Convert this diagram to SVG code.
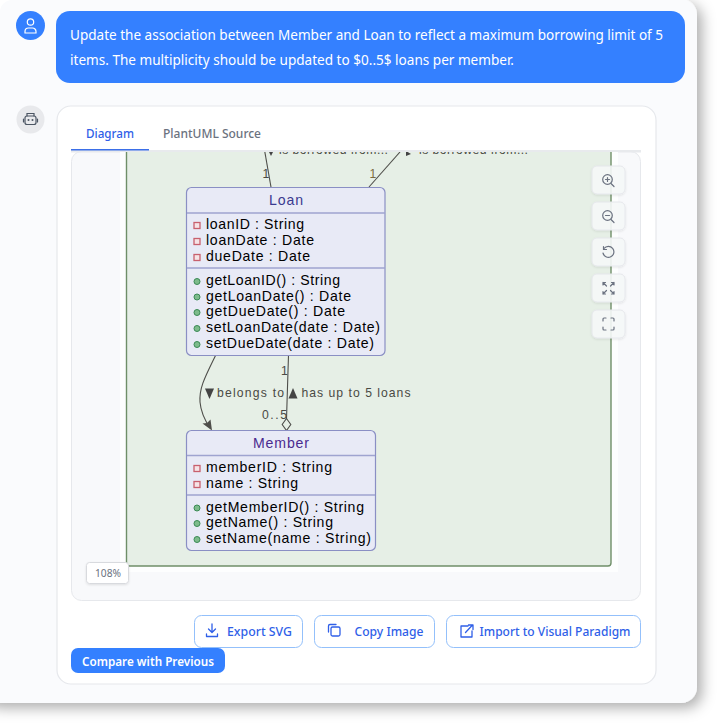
<svg xmlns="http://www.w3.org/2000/svg" width="719" height="724" viewBox="0 0 719 724">
<style>
.ui{font-family:"Noto Sans","Open Sans","Liberation Sans",sans-serif}
.msg{font-size:13.5px;fill:#fff}
.tab{font-size:12.5px;font-weight:500}
.btn{font-size:12.5px;fill:#2f5fe8;font-weight:500}
.um{font-family:"Liberation Sans",Arial,sans-serif;font-size:14.1px;fill:#000}
.title{font-family:"Liberation Sans",Arial,sans-serif;font-size:14.1px;text-anchor:middle}
.lab{font-family:"Liberation Sans",Arial,sans-serif;font-size:12.2px;fill:#4a4a44}
.cls{fill:#e8eaf6;stroke:#8a8fc4;stroke-width:1.2}
.sep{stroke:#9fa4d0;stroke-width:1.4}
.priv{fill:#f6e3e6;stroke:#c8606e;stroke-width:1.3}
.pub{fill:#7dbb8c;stroke:#3a8a55;stroke-width:1}
.edge{fill:none;stroke:#4e4e4a;stroke-width:1.1}
.ctl{fill:#f6f8f8;fill-opacity:.9;stroke:#e6e8ec;stroke-width:1}
.ico{fill:none;stroke:#6b7280;stroke-width:1.2;stroke-linecap:round}
.obtn{fill:#fff;stroke:#93c0fb;stroke-width:1}
.bi{fill:none;stroke:#2f5fe8;stroke-width:1.3;stroke-linecap:round;stroke-linejoin:round}
</style>
<defs>
<filter id="sh" x="-10%" y="-10%" width="120%" height="120%"><feDropShadow dx="5" dy="5" stdDeviation="7" flood-color="#000" flood-opacity=".32"/></filter>
<filter id="cs" x="-20%" y="-20%" width="140%" height="140%"><feDropShadow dx="0" dy="1" stdDeviation="1" flood-color="#000" flood-opacity=".1"/></filter>
<clipPath id="view"><rect x="71" y="152" width="570" height="448"/></clipPath>
</defs>
<rect width="719" height="724" fill="#fff"/>
<rect id="shell" x="-20" y="-1" width="717" height="704" rx="16" fill="#fafbfd" filter="url(#sh)"/>
<path d="M0 0h12a12 12 0 0 0-12 12z" fill="#fff"/>

<g id="user-message">
<circle cx="30.500" cy="25.500" r="14.500" fill="#3480ff"/>
<g fill="none" stroke="#fff" stroke-width="1.200" stroke-linecap="round"><circle cx="30.500" cy="22" r="3.200"/><path d="M25 33v-1.500a3.500 3.500 0 0 1 3.500-3.500h4a3.500 3.500 0 0 1 3.500 3.500V33z"/></g>
<rect x="56" y="11" width="629" height="72" rx="14" fill="#3480ff"/>
<text class="ui msg" x="70" y="40" textLength="593" lengthAdjust="spacingAndGlyphs">Update the association between Member and Loan to reflect a maximum borrowing limit of 5</text>
<text class="ui msg" x="70" y="65" textLength="444" lengthAdjust="spacingAndGlyphs">items. The multiplicity should be updated to $0..5$ loans per member.</text>
</g>

<g id="assistant-avatar">
<circle cx="30.500" cy="119.500" r="14" fill="#e8e9ec"/>
<g fill="none" stroke="#4b5563" stroke-width="1.200" stroke-linecap="round"><rect x="25" y="116" width="11" height="8.500" rx="2"/><path d="M27 116v-2.500h7V116M23.500 119v3M37.500 119v3"/></g>
<circle cx="28.500" cy="120" r="1" fill="#4b5563"/><circle cx="32.500" cy="120" r="1" fill="#4b5563"/>
</g>

<g id="card">
<rect x="57" y="106" width="599" height="578" rx="14" fill="#fff" stroke="#e6e8ec" stroke-width="1.200"/>
<text class="ui tab" x="86" y="138" fill="#2f5fe8" textLength="48" lengthAdjust="spacingAndGlyphs">Diagram</text>
<text class="ui tab" x="163" y="138" fill="#6b7280" textLength="98" lengthAdjust="spacingAndGlyphs">PlantUML Source</text>
<rect x="71.500" y="151.500" width="569" height="449" rx="10" fill="#f8f9fb" stroke="#e6e8ec"/>
<rect x="71" y="150" width="570" height="2.500" fill="#e8eaed"/>
<rect x="71" y="149" width="78" height="1.500" fill="#3b6fe8"/>
</g>

<g id="canvas" clip-path="url(#view)">
<rect x="120" y="152" width="498" height="420" fill="#fdfefe"/>
<rect x="126.500" y="130" width="484.500" height="436" rx="3" fill="#e6efe6" stroke="#6f8f68" stroke-width="1.400"/>

<g id="connectors">
<path class="edge" d="M264.500 150L271 187"/>
<path class="edge" d="M400 152L369 187"/>
<path class="edge" d="M215.500 355.500C205 377 199 388 200 402C201 414 206 422 210 428"/>
<path d="M212 430.500L202.500 423.500L207 423L210.500 419.500z" fill="#4e4e4a"/>
<path class="edge" d="M288.500 355.500L286.500 419"/>
<path d="M286.500 418.500L290.800 424.500L286.500 430.500L282.200 424.500z" fill="#e6efe6" stroke="#4e4e4a" stroke-width="1.100"/>
</g>

<g id="connector-labels">
<path d="M268.500 151h5l-2.500 5z" fill="#444"/>
<text class="lab" x="279" y="154" textLength="109" lengthAdjust="spacing">is borrowed from...</text>
<text class="lab" x="262.500" y="177.500" fill="#555">1</text>
<path d="M406 151l5 3-5 2z" fill="#444"/>
<text class="lab" x="419" y="154" textLength="109" lengthAdjust="spacing">is borrowed from...</text>
<text class="lab" x="369.500" y="177.500" style="fill:#7a6a40">1</text>
<text class="lab" x="281" y="375" fill="#555">1</text>
<path d="M205 388.500h9l-4.500 10.500z" fill="#444"/>
<text class="lab" x="217" y="397" textLength="67" lengthAdjust="spacing">belongs to</text>
<path d="M288.500 398.500h9l-4.500-10.500z" fill="#444"/>
<text class="lab" x="301.500" y="397" textLength="109" lengthAdjust="spacing">has up to 5 loans</text>
<text class="lab" x="262" y="418.500" textLength="25" lengthAdjust="spacing">0..5</text>
</g>

<g id="node-loan">
<rect class="cls" x="186.500" y="187.500" width="198.500" height="168" rx="5"/>
<path class="sep" d="M187 213h198M187 268h198"/>
<text class="title" x="286" y="205" fill="#3a3a90" textLength="34" lengthAdjust="spacing">Loan</text>
<rect class="priv" x="194" y="222.500" width="6" height="6"/><text class="um" x="206" y="229" textLength="98" lengthAdjust="spacing">loanID : String</text>
<rect class="priv" x="194" y="238.500" width="6" height="6"/><text class="um" x="206" y="245" textLength="108" lengthAdjust="spacing">loanDate : Date</text>
<rect class="priv" x="194" y="254.500" width="6" height="6"/><text class="um" x="206" y="261" textLength="104" lengthAdjust="spacing">dueDate : Date</text>
<circle class="pub" cx="197" cy="281.500" r="3"/><text class="um" x="206" y="285" textLength="134" lengthAdjust="spacing">getLoanID() : String</text>
<circle class="pub" cx="197" cy="297" r="3"/><text class="um" x="206" y="301" textLength="145" lengthAdjust="spacing">getLoanDate() : Date</text>
<circle class="pub" cx="197" cy="312.500" r="3"/><text class="um" x="206" y="316" textLength="139" lengthAdjust="spacing">getDueDate() : Date</text>
<circle class="pub" cx="197" cy="328.500" r="3"/><text class="um" x="206" y="332" textLength="174" lengthAdjust="spacing">setLoanDate(date : Date)</text>
<circle class="pub" cx="197" cy="344.500" r="3"/><text class="um" x="206" y="348" textLength="168" lengthAdjust="spacing">setDueDate(date : Date)</text>
</g>

<g id="node-member">
<rect class="cls" x="186.500" y="430.500" width="189" height="120" rx="5"/>
<path class="sep" d="M187 455.500h188M187 495h188"/>
<text class="title" x="281" y="448" fill="#4a2a90" textLength="56" lengthAdjust="spacing">Member</text>
<rect class="priv" x="194" y="465.500" width="6" height="6"/><text class="um" x="206" y="472" textLength="126" lengthAdjust="spacing">memberID : String</text>
<rect class="priv" x="194" y="481.500" width="6" height="6"/><text class="um" x="206" y="488" textLength="92" lengthAdjust="spacing">name : String</text>
<circle class="pub" cx="197" cy="508" r="3"/><text class="um" x="206" y="512" textLength="158" lengthAdjust="spacing">getMemberID() : String</text>
<circle class="pub" cx="197" cy="523.500" r="3"/><text class="um" x="206" y="527" textLength="127" lengthAdjust="spacing">getName() : String</text>
<circle class="pub" cx="197" cy="539.500" r="3"/><text class="um" x="206" y="543" textLength="165" lengthAdjust="spacing">setName(name : String)</text>
</g>
</g>

<g id="zoom-controls">
<rect class="ctl" x="592" y="166" width="33" height="28" rx="5" filter="url(#cs)"/>
<g class="ico"><circle cx="607.500" cy="179.500" r="4.800"/><path d="M605.500 179.500h4M607.500 177.500v4M611 183.500l3 3"/></g>
<rect class="ctl" x="592" y="202" width="33" height="28" rx="5" filter="url(#cs)"/>
<g class="ico"><circle cx="607.500" cy="215.500" r="4.800"/><path d="M605.500 215.500h4M611 219.500l3 3"/></g>
<rect class="ctl" x="592" y="238" width="33" height="28" rx="5" filter="url(#cs)"/>
<g class="ico"><path d="M604 248.500a5.500 5.500 0 1 1-1 4.500M603.500 246.500v3h3"/></g>
<rect class="ctl" x="592" y="274" width="33" height="28" rx="5" filter="url(#cs)"/>
<g class="ico"><path d="M603 282.500l3.500 3.500M603 285v-2.500h2.500M614 282.500l-3.500 3.500M611.500 282.500h2.500V285M603 294l3.500-3.500M603 291.500V294h2.500M614 294l-3.500-3.500M611.500 294h2.500v-2.500"/></g>
<rect class="ctl" x="592" y="310" width="33" height="28" rx="5" filter="url(#cs)"/>
<g class="ico"><path d="M603 321v-2a1 1 0 0 1 1-1h2M611 318h2a1 1 0 0 1 1 1v2M614 327v2a1 1 0 0 1-1 1h-2M606 330h-2a1 1 0 0 1-1-1v-2"/></g>
</g>

<g id="zoom-badge">
<rect x="86.500" y="562.500" width="42" height="21" rx="3" fill="#fff" stroke="#d8dade" filter="url(#cs)"/>
<text class="ui" x="95" y="577" font-size="11" fill="#6b7280" textLength="26" lengthAdjust="spacingAndGlyphs">108%</text>
</g>

<g id="actions">
<rect class="obtn" x="194.500" y="615.500" width="108" height="32" rx="7"/>
<g class="bi"><path d="M212 624v8M208.500 629l3.500 3.500 3.500-3.500M206.500 634v2.500h11V634"/></g>
<text class="ui btn" x="227" y="636" textLength="65" lengthAdjust="spacingAndGlyphs">Export SVG</text>
<rect class="obtn" x="314.500" y="615.500" width="120" height="32" rx="7"/>
<g class="bi"><rect x="331" y="627" width="9" height="9" rx="1.500"/><path d="M328.500 632v-6a1.500 1.500 0 0 1 1.500-1.500h6"/></g>
<text class="ui btn" x="354.500" y="636" textLength="69" lengthAdjust="spacingAndGlyphs">Copy Image</text>
<rect class="obtn" x="446.500" y="615.500" width="194" height="32" rx="7"/>
<g class="bi"><path d="M468 626h-7v11h11v-6M465.500 632.500l7-7.500M468.500 625h4.500v4.500"/></g>
<text class="ui btn" x="479.500" y="636" textLength="151" lengthAdjust="spacingAndGlyphs">Import to Visual Paradigm</text>
<rect x="71" y="648" width="154" height="25" rx="7" fill="#3480ff"/>
<text class="ui" x="82" y="665.500" font-size="12" font-weight="600" fill="#fff" textLength="132" lengthAdjust="spacingAndGlyphs">Compare with Previous</text>
</g>
</svg>
